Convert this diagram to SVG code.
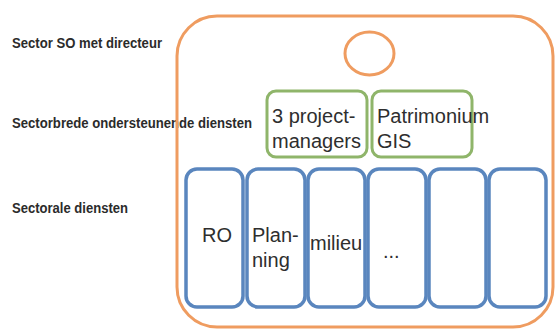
<svg xmlns="http://www.w3.org/2000/svg" width="556" height="329" viewBox="0 0 556 329">
<style>
.lbl{font-family:"Liberation Sans",Arial,sans-serif;font-weight:bold;font-size:14px;fill:#2b2b2b;}
.t{font-family:"Liberation Sans",Arial,sans-serif;font-size:20px;fill:#2e2e2e;}
.or{fill:none;stroke:#ef9c60;stroke-width:3;}
.gr{fill:#fff;stroke:#8fb56a;stroke-width:3;}
.bl{fill:#fff;stroke:#5a86be;stroke-width:3.5;}
</style>
<rect width="556" height="329" fill="#fff"/>
<g id="labels">
<text class="lbl" x="12" y="48" textLength="150" lengthAdjust="spacingAndGlyphs">Sector SO met directeur</text>
<text class="lbl" x="12" y="128" textLength="240" lengthAdjust="spacingAndGlyphs">Sectorbrede ondersteunende diensten</text>
<text class="lbl" x="12" y="213" textLength="116" lengthAdjust="spacingAndGlyphs">Sectorale diensten</text>
</g>
<g id="sector">
<rect class="or" x="177" y="16" width="376" height="311" rx="40" ry="40"/>
</g>
<g id="directeur">
<ellipse class="or" cx="369.5" cy="53.5" rx="24.5" ry="21.5"/>
</g>
<g id="projectmanagers">
<rect class="gr" x="267" y="91" width="100" height="66" rx="9"/>
<text class="t" x="272" y="123">3 project-</text>
<text class="t" x="272" y="148">managers</text>
</g>
<g id="patrimonium">
<rect class="gr" x="372" y="91" width="100" height="66" rx="9"/>
<text class="t" x="377" y="123">Patrimonium</text>
<text class="t" x="377" y="148">GIS</text>
</g>
<g id="ro">
<rect class="bl" x="186" y="169" width="57" height="138" rx="11"/>
<text class="t" x="217" y="242" text-anchor="middle">RO</text>
</g>
<g id="planning">
<rect class="bl" x="247" y="169" width="58" height="138" rx="11"/>
<text class="t" x="252" y="242">Plan-</text>
<text class="t" x="252" y="267">ning</text>
</g>
<g id="milieu">
<rect class="bl" x="308" y="169" width="57" height="138" rx="11"/>
<text class="t" x="310" y="250">milieu</text>
</g>
<g id="dots">
<rect class="bl" x="368" y="169" width="58" height="138" rx="11"/>
<text class="t" x="383" y="258">...</text>
</g>
<g id="box5">
<rect class="bl" x="429" y="169" width="57" height="138" rx="11"/>
</g>
<g id="box6">
<rect class="bl" x="489" y="169" width="57" height="138" rx="11"/>
</g>
<g id="connectors"></g>
</svg>
